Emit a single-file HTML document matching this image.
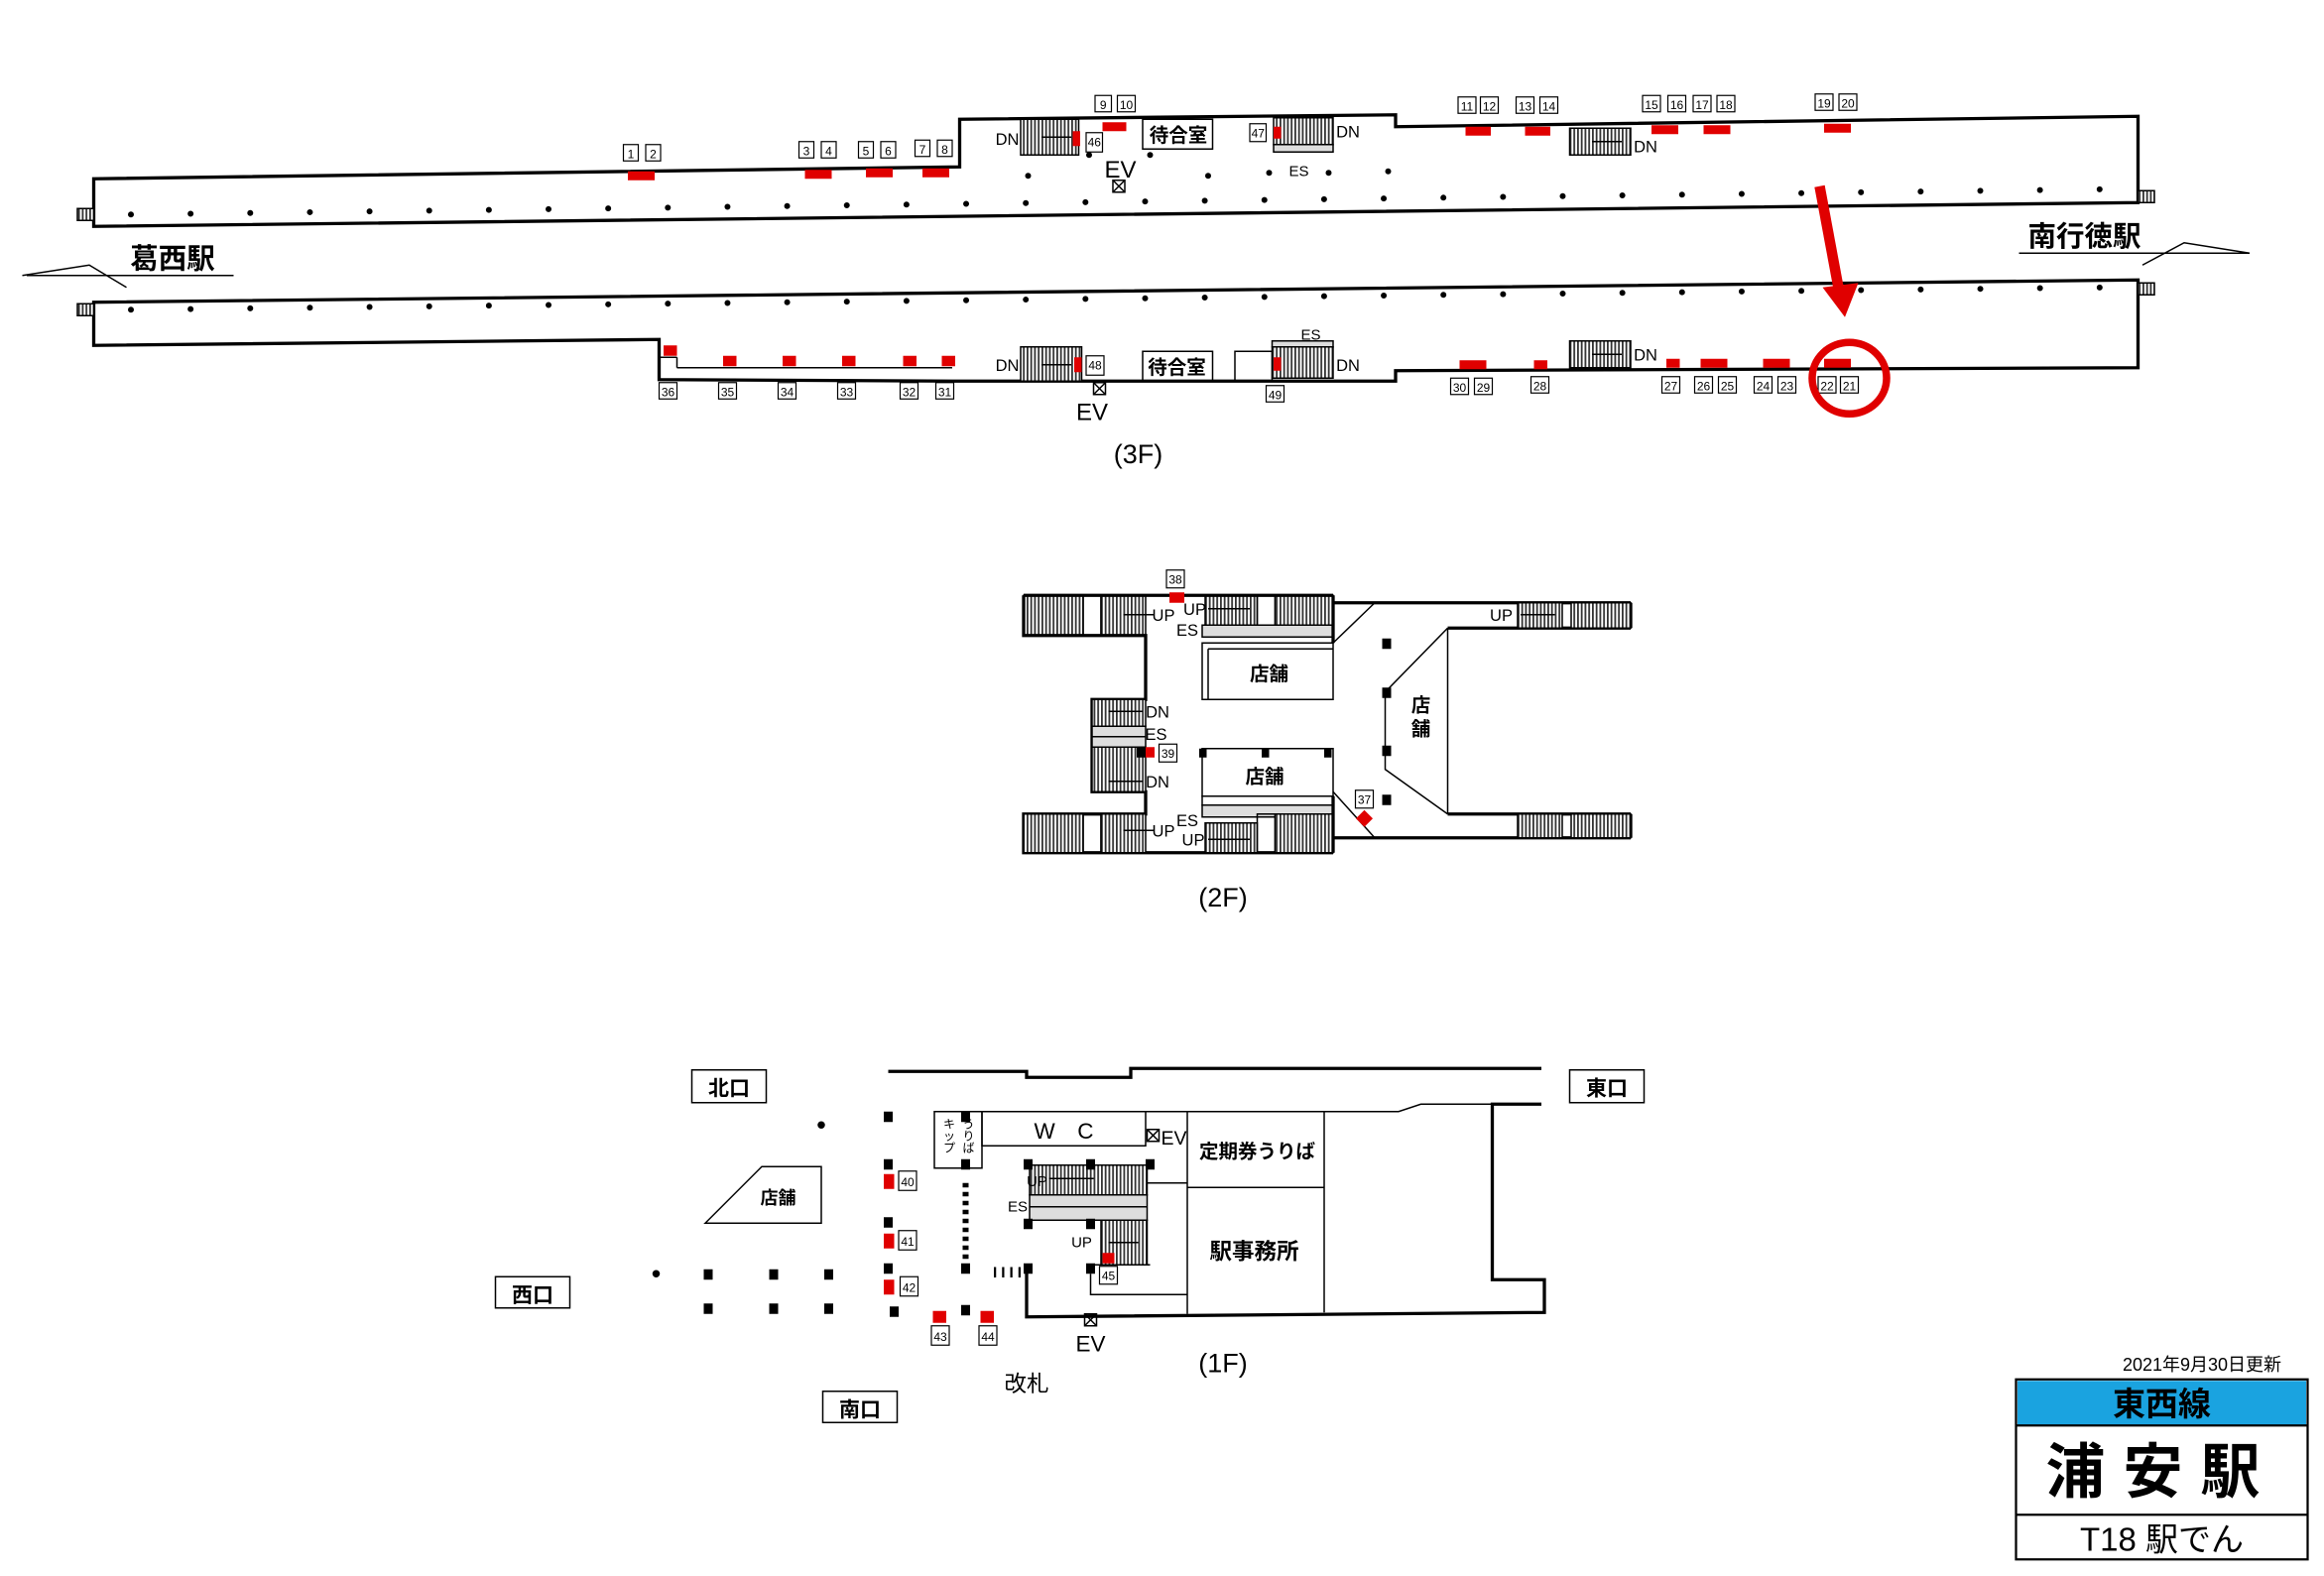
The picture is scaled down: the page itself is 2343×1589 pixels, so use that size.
<!DOCTYPE html>
<html><head><meta charset="utf-8"><style>
html,body{margin:0;padding:0;background:#fff;}
svg{display:block;}
text{font-family:"Liberation Sans","Noto Sans CJK JP",sans-serif;fill:#000;}
.n{font-size:8px;text-anchor:middle;}
.nb{fill:#fff;stroke:#000;stroke-width:0.8;}
.w{fill:none;stroke:#000;stroke-width:2.2;}
.t{fill:none;stroke:#000;stroke-width:1;}
.r{fill:#e00000;}
.h{fill:url(#hatch);stroke:#000;stroke-width:1;}
.g{fill:#ddd;stroke:#000;stroke-width:1;}
.lb{font-size:11px;text-anchor:middle;}
.jp{font-size:13px;text-anchor:middle;font-weight:bold;}
</style></head><body>
<svg width="2343" height="1589" viewBox="0 0 1562 1059" xmlns="http://www.w3.org/2000/svg">
<defs>
<pattern id="hatch" width="2.5" height="10" patternUnits="userSpaceOnUse">
<rect width="2.5" height="10" fill="#fff"/><rect width="1.2" height="10" fill="#333"/>
</pattern>
</defs>

<!-- ===== 3F ===== -->
<polygon class="w" points="63,120 645,112 645,80 938,77 938,85 1437,78 1437,136 63,152"/>
<polygon class="w" points="63,203 1437,188 1437,247 938,249 938,256 640,256 443,255 443,228 63,232"/>
<line class="t" x1="455" y1="247" x2="640" y2="247"/>
<line class="t" x1="443" y1="240" x2="455" y2="240"/><line class="t" x1="455" y1="240" x2="455" y2="247"/>
<!-- dots -->
<line x1="88" y1="144" x2="1416" y2="127" stroke="#000" stroke-width="4" stroke-linecap="round" stroke-dasharray="0 40.1"/>
<line x1="88" y1="208" x2="1416" y2="193" stroke="#000" stroke-width="4" stroke-linecap="round" stroke-dasharray="0 40.1"/>
<g fill="#000"><circle cx="691" cy="118" r="2"/><circle cx="812" cy="118" r="2"/><circle cx="853" cy="116" r="2"/><circle cx="893" cy="116" r="2"/><circle cx="933" cy="115" r="2"/><circle cx="732" cy="104" r="2"/><circle cx="773" cy="104" r="2"/></g>
<!-- end hatches -->
<rect class="h" x="52" y="140" width="11" height="8"/><rect class="h" x="52" y="204" width="11" height="8"/>
<rect class="h" x="1437" y="128" width="11" height="8"/><rect class="h" x="1437" y="190" width="11" height="8"/>
<!-- station labels -->
<text x="116" y="180" style="font-size:19px;font-weight:bold" text-anchor="middle">葛西駅</text>
<polyline class="t" points="15,185 60,178 85,193"/><line class="t" x1="18" y1="185" x2="157" y2="185" stroke-width="1.5"/>
<text x="1401" y="165" style="font-size:19px;font-weight:bold" text-anchor="middle">南行徳駅</text>
<line class="t" x1="1357" y1="170" x2="1512" y2="170" stroke-width="1.5"/><polyline class="t" points="1440,178 1468,163 1512,170"/>
<!-- upper red + labels -->
<g class="r">
<rect x="422" y="115" width="18" height="6"/><rect x="541" y="114" width="18" height="6"/><rect x="582" y="113" width="18" height="6"/><rect x="620" y="113" width="18" height="6"/>
<rect x="741" y="82" width="16" height="6"/>
<rect x="985" y="85" width="17" height="6"/><rect x="1025" y="85" width="17" height="6"/><rect x="1110" y="84" width="18" height="6"/><rect x="1145" y="84" width="18" height="6"/><rect x="1226" y="83" width="18" height="6"/>
</g>
<g>
<rect class="nb" x="419" y="97" width="10" height="11"/><text class="n" x="424" y="106">1</text>
<rect class="nb" x="434" y="97" width="10" height="11"/><text class="n" x="439" y="106">2</text>
<rect class="nb" x="537" y="95" width="10" height="11"/><text class="n" x="542" y="104">3</text>
<rect class="nb" x="552" y="95" width="10" height="11"/><text class="n" x="557" y="104">4</text>
<rect class="nb" x="577" y="95" width="10" height="11"/><text class="n" x="582" y="104">5</text>
<rect class="nb" x="592" y="95" width="10" height="11"/><text class="n" x="597" y="104">6</text>
<rect class="nb" x="615" y="94" width="10" height="11"/><text class="n" x="620" y="103">7</text>
<rect class="nb" x="630" y="94" width="10" height="11"/><text class="n" x="635" y="103">8</text>
<rect class="nb" x="736" y="64" width="11" height="11"/><text class="n" x="741.5" y="73">9</text>
<rect class="nb" x="751" y="64" width="12" height="11"/><text class="n" x="757" y="73">10</text>
<rect class="nb" x="980" y="65" width="12" height="11"/><text class="n" x="986" y="74">11</text>
<rect class="nb" x="995" y="65" width="12" height="11"/><text class="n" x="1001" y="74">12</text>
<rect class="nb" x="1019" y="65" width="12" height="11"/><text class="n" x="1025" y="74">13</text>
<rect class="nb" x="1035" y="65" width="12" height="11"/><text class="n" x="1041" y="74">14</text>
<rect class="nb" x="1104" y="64" width="12" height="11"/><text class="n" x="1110" y="73">15</text>
<rect class="nb" x="1121" y="64" width="12" height="11"/><text class="n" x="1127" y="73">16</text>
<rect class="nb" x="1138" y="64" width="12" height="11"/><text class="n" x="1144" y="73">17</text>
<rect class="nb" x="1154" y="64" width="12" height="11"/><text class="n" x="1160" y="73">18</text>
<rect class="nb" x="1220" y="63" width="12" height="11"/><text class="n" x="1226" y="72">19</text>
<rect class="nb" x="1236" y="63" width="12" height="11"/><text class="n" x="1242" y="72">20</text>
</g>
<!-- upper stairs -->
<rect class="h" x="686" y="80" width="39" height="24"/><line class="t" x1="700" y1="92" x2="720" y2="92"/>
<rect class="r" x="721" y="88" width="5" height="10"/>
<text class="lb" x="677" y="97">DN</text>
<rect class="nb" x="730" y="89" width="11" height="13"/><text class="n" x="735.5" y="98">46</text>
<rect class="t" x="768" y="80" width="47" height="20"/><text class="jp" x="792" y="95">待合室</text>
<text x="753" y="119" style="font-size:16px" text-anchor="middle">EV</text>
<rect class="t" x="748" y="121" width="8" height="8"/><line class="t" x1="748" y1="121" x2="756" y2="129"/><line class="t" x1="756" y1="121" x2="748" y2="129"/>
<rect class="h" x="856" y="79" width="40" height="18"/><rect class="g" x="856" y="97" width="40" height="5"/>
<rect class="r" x="856" y="85" width="5" height="8"/>
<rect class="nb" x="840" y="83" width="11" height="12"/><text class="n" x="845.5" y="92">47</text>
<text class="lb" x="906" y="92">DN</text><text x="873" y="118" style="font-size:10px" text-anchor="middle">ES</text>
<rect class="h" x="1055" y="86" width="41" height="18"/><line class="t" x1="1070" y1="95" x2="1090" y2="95"/>
<text class="lb" x="1106" y="102">DN</text>
<!-- lower red + labels -->
<g class="r">
<rect x="446" y="232" width="9" height="7"/><rect x="486" y="239" width="9" height="7"/><rect x="526" y="239" width="9" height="7"/><rect x="566" y="239" width="9" height="7"/><rect x="607" y="239" width="9" height="7"/><rect x="633" y="239" width="9" height="7"/>
<rect x="981" y="242" width="18" height="6"/><rect x="1031" y="242" width="9" height="6"/><rect x="1120" y="241" width="9" height="6"/><rect x="1143" y="241" width="18" height="6"/><rect x="1185" y="241" width="18" height="6"/><rect x="1226" y="241" width="18" height="6"/>
</g>
<g>
<rect class="nb" x="443" y="257" width="12" height="11"/><text class="n" x="449" y="266">36</text>
<rect class="nb" x="483" y="257" width="12" height="11"/><text class="n" x="489" y="266">35</text>
<rect class="nb" x="523" y="257" width="12" height="11"/><text class="n" x="529" y="266">34</text>
<rect class="nb" x="563" y="257" width="12" height="11"/><text class="n" x="569" y="266">33</text>
<rect class="nb" x="605" y="257" width="12" height="11"/><text class="n" x="611" y="266">32</text>
<rect class="nb" x="629" y="257" width="12" height="11"/><text class="n" x="635" y="266">31</text>
<rect class="nb" x="851" y="259" width="12" height="11"/><text class="n" x="857" y="268">49</text>
<rect class="nb" x="975" y="254" width="12" height="11"/><text class="n" x="981" y="263">30</text>
<rect class="nb" x="991" y="254" width="12" height="11"/><text class="n" x="997" y="263">29</text>
<rect class="nb" x="1029" y="253" width="12" height="11"/><text class="n" x="1035" y="262">28</text>
<rect class="nb" x="1117" y="253" width="12" height="11"/><text class="n" x="1123" y="262">27</text>
<rect class="nb" x="1139" y="253" width="12" height="11"/><text class="n" x="1145" y="262">26</text>
<rect class="nb" x="1155" y="253" width="12" height="11"/><text class="n" x="1161" y="262">25</text>
<rect class="nb" x="1179" y="253" width="12" height="11"/><text class="n" x="1185" y="262">24</text>
<rect class="nb" x="1195" y="253" width="12" height="11"/><text class="n" x="1201" y="262">23</text>
<rect class="nb" x="1222" y="253" width="12" height="11"/><text class="n" x="1228" y="262">22</text>
<rect class="nb" x="1237" y="253" width="12" height="11"/><text class="n" x="1243" y="262">21</text>
</g>
<rect class="h" x="686" y="233" width="41" height="23"/><line class="t" x1="700" y1="245" x2="720" y2="245"/>
<rect class="r" x="722" y="240" width="5" height="10"/>
<text class="lb" x="677" y="249">DN</text>
<rect class="nb" x="730" y="239" width="12" height="13"/><text class="n" x="736" y="248">48</text>
<rect class="t" x="735" y="257" width="8" height="8"/><line class="t" x1="735" y1="257" x2="743" y2="265"/><line class="t" x1="743" y1="257" x2="735" y2="265"/>
<text x="734" y="282" style="font-size:16px" text-anchor="middle">EV</text>
<rect class="t" x="768" y="236" width="47" height="20"/><text class="jp" x="791" y="251">待合室</text>
<rect class="t" x="830" y="236" width="25" height="20"/>
<rect class="g" x="855" y="229" width="41" height="4"/><rect class="h" x="855" y="233" width="41" height="21"/>
<rect class="r" x="856" y="240" width="5" height="9"/>
<text x="881" y="228" style="font-size:10px" text-anchor="middle">ES</text><text class="lb" x="906" y="249">DN</text>
<rect class="h" x="1055" y="229" width="41" height="18"/><line class="t" x1="1070" y1="238" x2="1090" y2="238"/>
<text class="lb" x="1106" y="242">DN</text>
<text x="765" y="311" style="font-size:18px" text-anchor="middle">(3F)</text>
<!-- red arrow and circle -->
<line x1="1223" y1="125" x2="1236" y2="195" stroke="#e00000" stroke-width="7"/>
<polygon points="1225,193 1249,190 1240,213" fill="#e00000"/>
<ellipse cx="1243" cy="254" rx="25" ry="24" fill="none" stroke="#e00000" stroke-width="5"/>

<!-- ===== 2F ===== -->
<g>
<rect class="h" x="688" y="400" width="40" height="27"/><rect class="t" x="728" y="400" width="12" height="27"/><rect class="h" x="740" y="400" width="30" height="27"/>
<rect class="h" x="810" y="400" width="35" height="20"/><rect class="t" x="845" y="400" width="12" height="27"/><rect class="h" x="857" y="400" width="39" height="27"/>
<line class="w" x1="688" y1="400" x2="896" y2="400"/>
<polyline class="w" points="688,400 688,427 770,427 770,470 734,470 734,532 770,532 770,547 688,547 688,573 896,573"/>
<rect class="g" x="808" y="420" width="88" height="8"/>
<polyline class="w" points="896,400 896,432"/>
<rect class="t" x="808" y="432" width="88" height="38"/><line class="t" x1="812" y1="436" x2="812" y2="470"/><line class="t" x1="812" y1="436" x2="896" y2="436"/>
<text class="jp" x="853" y="457">店舗</text>
<rect class="h" x="734" y="470" width="36" height="18"/><rect class="g" x="734" y="488" width="36" height="14"/><line class="t" x1="734" y1="495" x2="770" y2="495"/><rect class="h" x="734" y="502" width="36" height="30"/>
<line class="t" x1="745" y1="478" x2="768" y2="478"/><line class="t" x1="745" y1="525" x2="768" y2="525"/>
<text class="lb" x="778" y="482">DN</text><text class="lb" x="777" y="497">ES</text><text class="lb" x="778" y="529">DN</text>
<rect x="764" y="502" width="6" height="7" fill="#000"/><rect class="r" x="770" y="502" width="6" height="7"/>
<rect class="nb" x="779" y="500" width="12" height="12"/><text class="n" x="785" y="509">39</text>
<rect class="t" x="808" y="503" width="88" height="32"/>
<g fill="#000"><rect x="806" y="503" width="5" height="6"/><rect x="848" y="503" width="5" height="6"/><rect x="890" y="503" width="5" height="6"/></g>
<text class="jp" x="850" y="526">店舗</text>
<rect class="t" x="808" y="535" width="88" height="6"/><rect class="g" x="808" y="541" width="88" height="8"/>
<rect class="h" x="688" y="547" width="40" height="26"/><rect class="t" x="728" y="547" width="12" height="26"/><rect class="h" x="740" y="547" width="30" height="26"/>
<rect class="h" x="810" y="553" width="35" height="20"/><rect class="t" x="845" y="547" width="12" height="26"/><rect class="h" x="857" y="547" width="39" height="26"/>
<line class="w" x1="896" y1="535" x2="896" y2="573"/>
<line class="t" x1="755" y1="413" x2="776" y2="413"/><text class="lb" x="782" y="417">UP</text>
<text class="lb" x="803" y="413">UP</text><line class="t" x1="812" y1="409" x2="840" y2="409"/>
<text class="lb" x="798" y="427">ES</text>
<text class="lb" x="798" y="555">ES</text>
<line class="t" x1="755" y1="558" x2="776" y2="558"/><text class="lb" x="782" y="562">UP</text>
<text class="lb" x="802" y="568">UP</text><line class="t" x1="812" y1="564" x2="840" y2="564"/>
<rect class="r" x="786" y="398" width="10" height="7"/>
<rect class="nb" x="784" y="383" width="12" height="12"/><text class="n" x="790" y="392">38</text>
<!-- right -->
<line class="w" x1="896" y1="405" x2="1096" y2="405"/>
<line class="w" x1="973" y1="422" x2="1096" y2="422"/><line class="w" x1="1096" y1="405" x2="1096" y2="422"/>
<rect class="h" x="1020" y="405" width="30" height="17"/><rect class="h" x="1056" y="405" width="40" height="17"/>
<line class="t" x1="1022" y1="413" x2="1045" y2="413"/><text class="lb" x="1009" y="417">UP</text>
<line class="t" x1="896" y1="432" x2="924" y2="405"/>
<polyline class="t" points="973,422 931,465 931,517 973,547"/><line class="t" x1="973" y1="422" x2="973" y2="547"/>
<line class="w" x1="973" y1="547" x2="1096" y2="547"/><line class="w" x1="896" y1="563" x2="1096" y2="563"/><line class="w" x1="1096" y1="547" x2="1096" y2="563"/>
<rect class="h" x="1020" y="547" width="30" height="16"/><rect class="h" x="1056" y="547" width="40" height="16"/>
<line class="t" x1="896" y1="532" x2="924" y2="563"/>
<g fill="#000"><rect x="929" y="429" width="6" height="7"/><rect x="929" y="462" width="6" height="7"/><rect x="929" y="501" width="6" height="7"/><rect x="929" y="534" width="6" height="7"/></g>
<text x="955" y="478" style="font-size:13px;font-weight:bold" text-anchor="middle">店</text>
<text x="955" y="494" style="font-size:13px;font-weight:bold" text-anchor="middle">舗</text>
<rect class="nb" x="911" y="531" width="12" height="12"/><text class="n" x="917" y="540">37</text>
<rect class="r" x="913" y="546" width="8" height="8" transform="rotate(45 917 550)"/>
<text x="822" y="609" style="font-size:18px" text-anchor="middle">(2F)</text>
</g>

<!-- ===== 1F ===== -->
<g>
<polyline class="w" points="597,720 690,720 690,724 760,724 760,718 1036,718"/>
<polyline class="t" points="628,747 940,747 955,742 1036,742" stroke-width="1.5"/>
<polyline class="w" points="1036,742 1003,742 1003,860 1038,860 1038,882 690,885 690,850"/>
<rect class="t" x="628" y="747" width="32" height="38"/>
<text x="638" y="758" style="font-size:8px" text-anchor="middle"><tspan x="638" dy="0">キ</tspan><tspan x="638" dy="8">ッ</tspan><tspan x="638" dy="8">プ</tspan></text>
<text x="651" y="758" style="font-size:8px" text-anchor="middle"><tspan x="651" dy="0">う</tspan><tspan x="651" dy="8">り</tspan><tspan x="651" dy="8">ば</tspan></text>
<rect class="t" x="660" y="747" width="110" height="23"/>
<text x="715" y="765" style="font-size:15px" text-anchor="middle">W　C</text>
<rect class="t" x="771" y="759" width="8" height="8"/><line class="t" x1="771" y1="759" x2="779" y2="767"/><line class="t" x1="779" y1="759" x2="771" y2="767"/>
<text x="789" y="769" style="font-size:13px" text-anchor="middle">EV</text>
<line class="t" x1="798" y1="747" x2="798" y2="883"/><line class="t" x1="890" y1="747" x2="890" y2="882"/>
<line class="t" x1="798" y1="798" x2="890" y2="798"/>
<line class="t" x1="771" y1="795" x2="798" y2="795"/>
<text class="jp" x="845" y="778">定期券うりば</text>
<text x="843" y="846" style="font-size:15px;font-weight:bold" text-anchor="middle">駅事務所</text>
<rect class="h" x="692" y="783" width="79" height="20"/><rect class="g" x="692" y="803" width="79" height="17"/><line class="t" x1="692" y1="811" x2="771" y2="811"/>
<rect class="h" x="740" y="820" width="31" height="30"/>
<line class="t" x1="705" y1="792" x2="735" y2="792"/><line class="t" x1="745" y1="835" x2="765" y2="835"/>
<text x="697" y="797" style="font-size:10px" text-anchor="middle">UP</text>
<text x="684" y="814" style="font-size:10px" text-anchor="middle">ES</text>
<text x="727" y="838" style="font-size:10px" text-anchor="middle">UP</text>
<rect class="r" x="741" y="842" width="8" height="7"/>
<polyline class="t" points="733,856 733,870 798,870"/>
<rect class="nb" x="739" y="851" width="12" height="12"/><text class="n" x="745" y="860">45</text>
<line class="t" x1="733" y1="850" x2="773" y2="850" stroke-width="2"/>
<g fill="#000">
<rect x="688" y="779" width="6" height="7"/><rect x="730" y="779" width="6" height="7"/><rect x="770" y="779" width="6" height="7"/>
<rect x="688" y="819" width="6" height="7"/><rect x="730" y="819" width="6" height="7"/>
<rect x="688" y="849" width="6" height="7"/><rect x="730" y="849" width="6" height="7"/>
<rect x="646" y="747" width="6" height="7"/><rect x="646" y="779" width="6" height="7"/><rect x="646" y="849" width="6" height="7"/>
<rect x="594" y="747" width="6" height="7"/><rect x="594" y="779" width="6" height="7"/><rect x="594" y="818" width="6" height="7"/><rect x="594" y="849" width="6" height="7"/>
<rect x="473" y="853" width="6" height="7"/><rect x="517" y="853" width="6" height="7"/><rect x="554" y="853" width="6" height="7"/>
<rect x="473" y="876" width="6" height="7"/><rect x="517" y="876" width="6" height="7"/><rect x="554" y="876" width="6" height="7"/>
<rect x="598" y="878" width="6" height="7"/><rect x="646" y="877" width="6" height="7"/>
<circle cx="552" cy="756" r="2.5"/><circle cx="441" cy="856" r="2.5"/>
</g>
<line x1="649" y1="795" x2="649" y2="848" stroke="#000" stroke-width="4" stroke-dasharray="3 3"/>
<line x1="668" y1="855" x2="688" y2="855" stroke="#000" stroke-width="7" stroke-dasharray="1.5 4"/>
<g class="r">
<rect x="594" y="789" width="7" height="10"/><rect x="594" y="829" width="7" height="10"/><rect x="594" y="860" width="7" height="10"/>
<rect x="627" y="881" width="9" height="8"/><rect x="659" y="881" width="9" height="8"/>
</g>
<rect class="nb" x="604" y="787" width="12" height="13"/><text class="n" x="610" y="797">40</text>
<rect class="nb" x="604" y="827" width="12" height="13"/><text class="n" x="610" y="837">41</text>
<rect class="nb" x="605" y="858" width="12" height="13"/><text class="n" x="611" y="868">42</text>
<rect class="nb" x="626" y="891" width="12" height="13"/><text class="n" x="632" y="901">43</text>
<rect class="nb" x="658" y="891" width="12" height="13"/><text class="n" x="664" y="901">44</text>
<rect class="t" x="729" y="883" width="8" height="8"/><line class="t" x1="729" y1="883" x2="737" y2="891"/><line class="t" x1="737" y1="883" x2="729" y2="891"/>
<text x="733" y="908" style="font-size:15px" text-anchor="middle">EV</text>
<text x="690" y="935" style="font-size:15px" text-anchor="middle">改札</text>
<text x="822" y="922" style="font-size:18px" text-anchor="middle">(1F)</text>
<polygon class="t" points="474,822 512,784 552,784 552,822" stroke-width="2"/>
<text x="523" y="809" style="font-size:12px;font-weight:bold" text-anchor="middle">店舗</text>
<rect class="t" x="465" y="719" width="50" height="22" stroke-width="1.5"/><text x="490" y="736" style="font-size:14px;font-weight:bold" text-anchor="middle">北口</text>
<rect class="t" x="1055" y="719" width="50" height="22" stroke-width="1.5"/><text x="1080" y="736" style="font-size:14px;font-weight:bold" text-anchor="middle">東口</text>
<rect class="t" x="333" y="858" width="50" height="21" stroke-width="1.5"/><text x="358" y="875" style="font-size:14px;font-weight:bold" text-anchor="middle">西口</text>
<rect class="t" x="553" y="935" width="50" height="21" stroke-width="1.5"/><text x="578" y="952" style="font-size:14px;font-weight:bold" text-anchor="middle">南口</text>
</g>

<!-- ===== title ===== -->
<text x="1480" y="921" style="font-size:12px" text-anchor="middle">2021年9月30日更新</text>
<rect x="1355" y="927" width="196" height="121" fill="#fff" stroke="#000" stroke-width="1.5"/>
<rect x="1356" y="928" width="194" height="30" fill="#1aa3e0"/>
<line x1="1355" y1="958" x2="1551" y2="958" stroke="#000" stroke-width="1.5"/>
<text x="1453" y="951" style="font-size:22px;font-weight:bold" text-anchor="middle">東西線</text>
<text x="1453" y="1003" style="font-size:40px;font-weight:bold;letter-spacing:12px" text-anchor="middle">浦安駅</text>
<line x1="1355" y1="1018" x2="1551" y2="1018" stroke="#000" stroke-width="1.5"/>
<text x="1453" y="1042" style="font-size:22px" text-anchor="middle">T18 駅でん</text>
</svg>
</body></html>
